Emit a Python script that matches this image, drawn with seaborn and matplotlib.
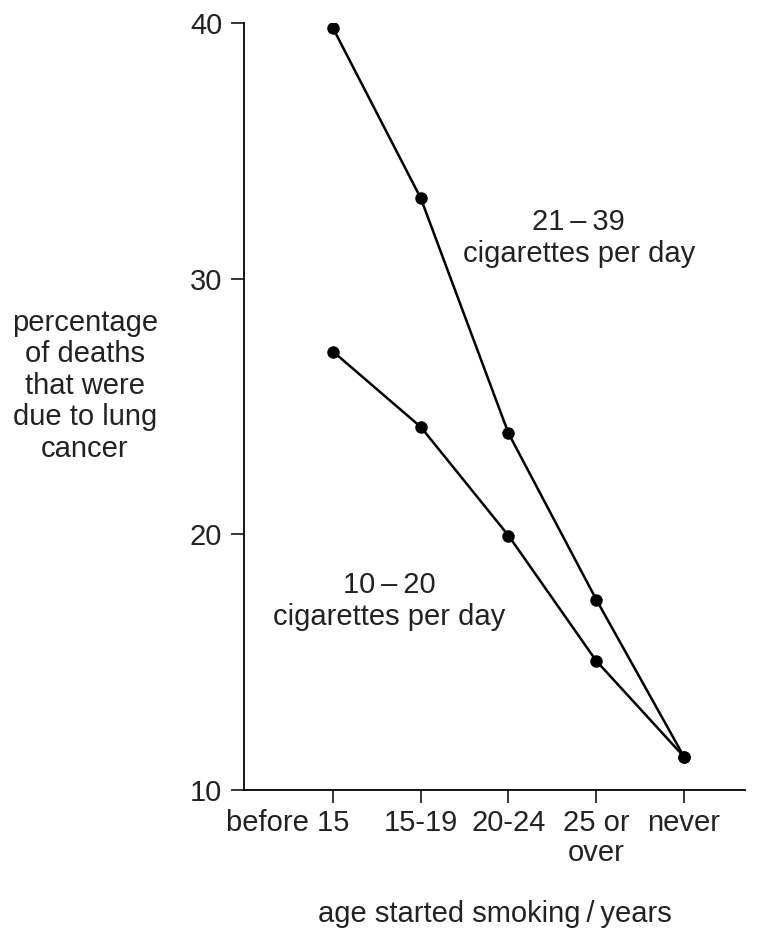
import matplotlib
matplotlib.use("Agg")
import matplotlib.pyplot as plt
import matplotlib.transforms as mtransforms
import seaborn as sns
import pandas as pd

# values
ages = ["before 15", "15-19", "20-24", "25 or\nover", "never"]
heavy = [39.8, 33.15, 23.95, 17.45, 11.3]   # 21-39 cigarettes per day
light = [27.15, 24.2, 19.95, 15.05, 11.3]   # 10-20 cigarettes per day
y_ticks = [10, 20, 30, 40]

df = pd.DataFrame({
    "age": ages * 2,
    "pct": heavy + light,
    "group": ["21-39"] * len(ages) + ["10-20"] * len(ages),
})

sns.set_theme(style="ticks")
plt.rcParams["font.family"] = ["Liberation Sans", "DejaVu Sans"]

FS = 21
TXT = "#222222"

fig = plt.figure(figsize=(7.63, 9.32), dpi=100)
ax = fig.add_axes([0.3198, 0.1524, 0.6566, 0.8229])

sns.lineplot(data=df, x="age", y="pct", units="group", estimator=None,
             color="black", marker="o", markersize=9, markeredgewidth=0,
             linewidth=1.8, sort=False, ax=ax)

ax.set_ylim(10, 40)
ax.set_xlim(-1.014, 4.695)
ax.set_yticks(y_ticks)
ax.tick_params(axis="both", direction="out", length=9.2, width=1.1,
               color="black", labelsize=FS, labelcolor=TXT)
ax.tick_params(axis="y", pad=6.5)
ax.tick_params(axis="x", pad=4.5)
xlabels = ax.get_xticklabels()
for lbl in xlabels:
    lbl.set_linespacing(1.09)
# the first category label sits left of its tick in the reference
shift = mtransforms.ScaledTranslation(-0.45, 0, fig.dpi_scale_trans)
xlabels[0].set_transform(xlabels[0].get_transform() + shift)

sns.despine(ax=ax)
for s in ["left", "bottom"]:
    ax.spines[s].set_linewidth(1.3)
    ax.spines[s].set_color("black")

ax.set_xlabel("age started smoking\u2009/\u2009years", fontsize=FS,
              color=TXT, labelpad=24)
ax.set_ylabel("percentage\nof deaths\nthat were\ndue to lung\ncancer",
              fontsize=FS, color=TXT, rotation=0, ha="center",
              va="center", linespacing=1.16)
ax.yaxis.set_label_coords(-0.318, 0.527)

ax.text(2.8, 31.6, "21\u2009\u2013\u200939\ncigarettes per day", fontsize=FS,
        color=TXT, ha="center", va="center", linespacing=1.16)
ax.text(0.64, 17.4, "10\u2009\u2013\u200920\ncigarettes per day", fontsize=FS,
        color=TXT, ha="center", va="center", linespacing=1.16)

fig.savefig("out.png", dpi=100)
